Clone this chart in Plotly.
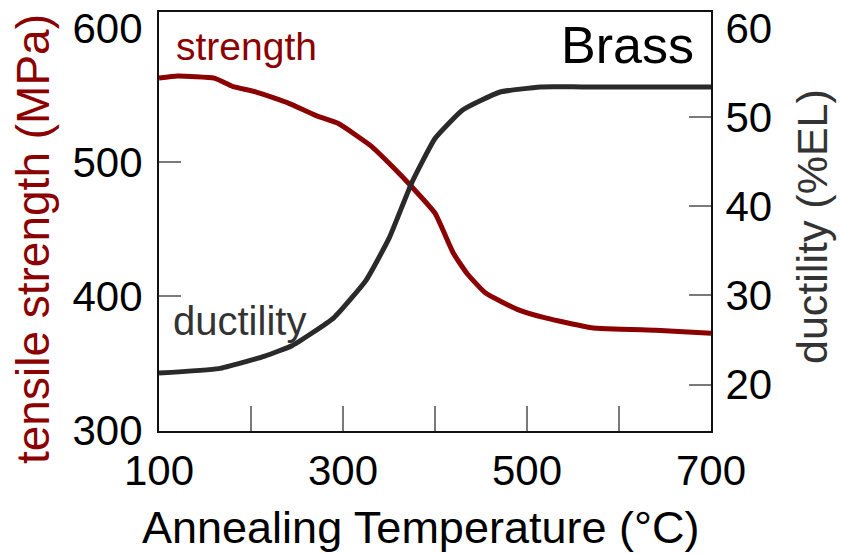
import plotly.graph_objects as go

# ---- data ----
temp_strength = [100, 120, 160, 180, 205, 240, 270, 295, 330, 355, 375, 400, 420, 435, 455, 490, 520, 570, 640, 700]
strength_mpa = [562.6, 564.1, 562.6, 556.4, 552.3, 544.1, 534.8, 528.7, 512.2, 495.7, 481.3, 461.8,
                431.9, 416.6, 402.2, 389.9, 383.7, 376.4, 374.4, 372.3]

temp_ductility = [100, 165, 215, 245, 290, 325, 350, 375, 400, 430, 470, 515, 560, 700]
ductility_el = [21.3, 21.8, 23.2, 24.4, 27.5, 31.7, 36.4, 42.7, 47.6, 50.8, 52.8, 53.4, 53.4, 53.4]

x_tick_labels = [100, 300, 500, 700]
x_tick_marks = [200, 300, 400, 500, 600]
y1_tick_labels = [300, 400, 500, 600]
y1_tick_marks = [400, 500]
y2_tick_labels = [20, 30, 40, 50, 60]
y2_tick_marks = [20, 30, 40, 50]

RED = "#8B0000"
DARK = "#2a2a2a"
FONT = "Liberation Sans, Arial, sans-serif"

W, H = 841, 554
L, R, T, B = 159, 711, 12, 431


def px(xp):
    return (xp - L) / (R - L)


def py(yp):
    return (B - yp) / (B - T)


fig = go.Figure()
fig.add_trace(go.Scatter(x=temp_strength, y=strength_mpa, mode="lines",
                         line=dict(color=RED, width=5, shape="spline", smoothing=0.4),
                         xaxis="x", yaxis="y", showlegend=False))
fig.add_trace(go.Scatter(x=temp_ductility, y=ductility_el, mode="lines",
                         line=dict(color=DARK, width=5, shape="spline", smoothing=0.4),
                         xaxis="x", yaxis="y2", showlegend=False))


def axis(tick_labels, tick_marks, ticklen, standoff, **kw):
    return dict(showgrid=False, zeroline=False, showline=True, linecolor="#111",
                linewidth=2, ticks="", tickmode="array", tickvals=tick_labels,
                ticklabelstandoff=standoff,
                tickfont=dict(family=FONT, size=42, color="black"),
                minor=dict(tickmode="array", tickvals=tick_marks, ticks="inside",
                           ticklen=ticklen, tickwidth=2, tickcolor="#7a7a7a", showgrid=False),
                **kw)


fig.update_layout(
    width=W, height=H,
    margin=dict(l=L, r=W - R, t=T, b=H - B, pad=0, autoexpand=False),
    paper_bgcolor="white", plot_bgcolor="white",
    font=dict(family=FONT),
    xaxis=axis(x_tick_labels, x_tick_marks, 25, 2, range=[100, 700], mirror=True),
    yaxis=axis(y1_tick_labels, y1_tick_marks, 22, 6, range=[299.3, 611.9]),
    yaxis2=axis(y2_tick_labels, y2_tick_marks, 22, 4, range=[14.8, 61.8],
                overlaying="y", side="right"),
    annotations=[
        dict(text="Annealing Temperature (°C)", xref="paper", yref="paper",
             x=px(420), y=py(527), xanchor="center", yanchor="middle", showarrow=False,
             font=dict(family=FONT, size=45, color="black")),
        dict(text="tensile strength (MPa)", xref="paper", yref="paper",
             x=px(33), y=py(239), xanchor="center", yanchor="middle", showarrow=False,
             textangle=-90, font=dict(family=FONT, size=46, color=RED)),
        dict(text="ductility (%EL)", xref="paper", yref="paper",
             x=px(812), y=py(227), xanchor="center", yanchor="middle", showarrow=False,
             textangle=-90, font=dict(family=FONT, size=43, color="#333")),
        dict(text="strength", xref="paper", yref="paper",
             x=px(174), y=py(47), xanchor="left", yanchor="middle", showarrow=False,
             font=dict(family=FONT, size=39, color=RED)),
        dict(text="Brass", xref="paper", yref="paper",
             x=px(696), y=py(45), xanchor="right", yanchor="middle", showarrow=False,
             font=dict(family=FONT, size=52, color="black")),
        dict(text="ductility", xref="paper", yref="paper",
             x=px(171), y=py(321), xanchor="left", yanchor="middle", showarrow=False,
             font=dict(family=FONT, size=40, color="#333")),
    ],
)

fig.write_html("out.html")
